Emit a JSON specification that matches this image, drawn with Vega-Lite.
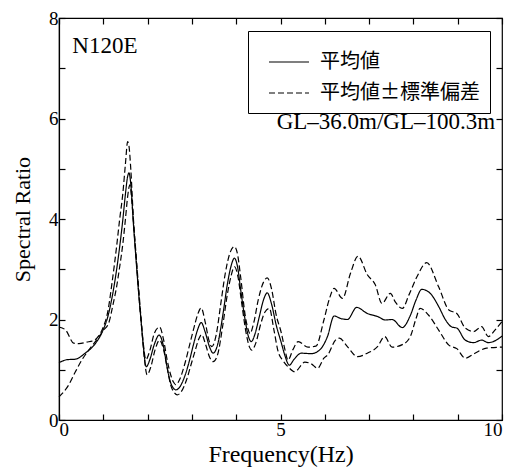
{
  "$schema": "https://vega.github.io/schema/vega-lite/v6.json",
  "autosize": {"type": "none"},
  "padding": {"left": 59, "top": 18, "right": 26, "bottom": 47},
  "width": 443,
  "height": 402,
  "background": "white",
  "config": {
    "view": {"stroke": "black", "strokeWidth": 1.2},
    "axis": {
      "labelFont": "Liberation Serif", "labelFontSize": 19, "labelColor": "black",
      "titleFont": "Liberation Serif", "titleFontSize": 22, "titleFontWeight": "normal", "titleColor": "black",
      "domainColor": "black", "tickColor": "black", "grid": false, "tickSize": -6, "tickWidth": 1.2, "domainWidth": 1.2
    },
    "legend": {
      "strokeColor": "black", "strokeWidth": 1, "padding": 10, "fillColor": "white",
      "labelFont": "Noto Sans CJK JP", "labelFontSize": 20, "labelColor": "black",
      "symbolType": "stroke", "symbolStrokeWidth": 1.2, "symbolSize": 1600, "symbolStrokeColor": "black",
      "rowPadding": -6, "labelOffset": 10, "symbolOffset": 10
    }
  },
  "layer": [
    {
      "data": {"values": [
        {"f":0,"v":1.14,"s":"mean","k":"平均値"},
        {"f":0.18,"v":1.2,"s":"mean","k":"平均値"},
        {"f":0.37,"v":1.21,"s":"mean","k":"平均値"},
        {"f":0.59,"v":1.33,"s":"mean","k":"平均値"},
        {"f":0.82,"v":1.52,"s":"mean","k":"平均値"},
        {"f":1.0,"v":1.8,"s":"mean","k":"平均値"},
        {"f":1.1,"v":2.05,"s":"mean","k":"平均値"},
        {"f":1.2,"v":2.45,"s":"mean","k":"平均値"},
        {"f":1.3,"v":2.99,"s":"mean","k":"平均値"},
        {"f":1.37,"v":3.45,"s":"mean","k":"平均値"},
        {"f":1.44,"v":3.98,"s":"mean","k":"平均値"},
        {"f":1.5,"v":4.5,"s":"mean","k":"平均値"},
        {"f":1.55,"v":4.85,"s":"mean","k":"平均値"},
        {"f":1.58,"v":4.92,"s":"mean","k":"平均値"},
        {"f":1.62,"v":4.7,"s":"mean","k":"平均値"},
        {"f":1.68,"v":3.9,"s":"mean","k":"平均値"},
        {"f":1.73,"v":3.3,"s":"mean","k":"平均値"},
        {"f":1.8,"v":2.5,"s":"mean","k":"平均値"},
        {"f":1.85,"v":2.0,"s":"mean","k":"平均値"},
        {"f":1.9,"v":1.5,"s":"mean","k":"平均値"},
        {"f":1.97,"v":1.06,"s":"mean","k":"平均値"},
        {"f":2.05,"v":1.2,"s":"mean","k":"平均値"},
        {"f":2.15,"v":1.5,"s":"mean","k":"平均値"},
        {"f":2.26,"v":1.69,"s":"mean","k":"平均値"},
        {"f":2.35,"v":1.5,"s":"mean","k":"平均値"},
        {"f":2.43,"v":1.1,"s":"mean","k":"平均値"},
        {"f":2.5,"v":0.8,"s":"mean","k":"平均値"},
        {"f":2.57,"v":0.65,"s":"mean","k":"平均値"},
        {"f":2.64,"v":0.6,"s":"mean","k":"平均値"},
        {"f":2.72,"v":0.65,"s":"mean","k":"平均値"},
        {"f":2.85,"v":0.9,"s":"mean","k":"平均値"},
        {"f":2.95,"v":1.2,"s":"mean","k":"平均値"},
        {"f":3.05,"v":1.55,"s":"mean","k":"平均値"},
        {"f":3.13,"v":1.8,"s":"mean","k":"平均値"},
        {"f":3.21,"v":1.94,"s":"mean","k":"平均値"},
        {"f":3.3,"v":1.75,"s":"mean","k":"平均値"},
        {"f":3.4,"v":1.45,"s":"mean","k":"平均値"},
        {"f":3.48,"v":1.33,"s":"mean","k":"平均値"},
        {"f":3.58,"v":1.5,"s":"mean","k":"平均値"},
        {"f":3.7,"v":2.1,"s":"mean","k":"平均値"},
        {"f":3.8,"v":2.7,"s":"mean","k":"平均値"},
        {"f":3.88,"v":3.05,"s":"mean","k":"平均値"},
        {"f":3.96,"v":3.22,"s":"mean","k":"平均値"},
        {"f":4.03,"v":3.05,"s":"mean","k":"平均値"},
        {"f":4.1,"v":2.6,"s":"mean","k":"平均値"},
        {"f":4.2,"v":2.0,"s":"mean","k":"平均値"},
        {"f":4.28,"v":1.65,"s":"mean","k":"平均値"},
        {"f":4.34,"v":1.56,"s":"mean","k":"平均値"},
        {"f":4.42,"v":1.7,"s":"mean","k":"平均値"},
        {"f":4.52,"v":2.05,"s":"mean","k":"平均値"},
        {"f":4.62,"v":2.4,"s":"mean","k":"平均値"},
        {"f":4.7,"v":2.53,"s":"mean","k":"平均値"},
        {"f":4.8,"v":2.3,"s":"mean","k":"平均値"},
        {"f":4.9,"v":1.9,"s":"mean","k":"平均値"},
        {"f":5.02,"v":1.53,"s":"mean","k":"平均値"},
        {"f":5.1,"v":1.28,"s":"mean","k":"平均値"},
        {"f":5.2,"v":1.09,"s":"mean","k":"平均値"},
        {"f":5.3,"v":1.2,"s":"mean","k":"平均値"},
        {"f":5.47,"v":1.33,"s":"mean","k":"平均値"},
        {"f":5.69,"v":1.32,"s":"mean","k":"平均値"},
        {"f":5.88,"v":1.39,"s":"mean","k":"平均値"},
        {"f":6.06,"v":1.66,"s":"mean","k":"平均値"},
        {"f":6.21,"v":2.07,"s":"mean","k":"平均値"},
        {"f":6.36,"v":2.02,"s":"mean","k":"平均値"},
        {"f":6.51,"v":2.0,"s":"mean","k":"平均値"},
        {"f":6.72,"v":2.24,"s":"mean","k":"平均値"},
        {"f":6.96,"v":2.12,"s":"mean","k":"平均値"},
        {"f":7.19,"v":2.06,"s":"mean","k":"平均値"},
        {"f":7.37,"v":1.99,"s":"mean","k":"平均値"},
        {"f":7.52,"v":2.0,"s":"mean","k":"平均値"},
        {"f":7.75,"v":1.84,"s":"mean","k":"平均値"},
        {"f":7.93,"v":2.08,"s":"mean","k":"平均値"},
        {"f":8.06,"v":2.39,"s":"mean","k":"平均値"},
        {"f":8.19,"v":2.6,"s":"mean","k":"平均値"},
        {"f":8.38,"v":2.52,"s":"mean","k":"平均値"},
        {"f":8.57,"v":2.26,"s":"mean","k":"平均値"},
        {"f":8.72,"v":2.0,"s":"mean","k":"平均値"},
        {"f":8.87,"v":1.85,"s":"mean","k":"平均値"},
        {"f":8.98,"v":1.83,"s":"mean","k":"平均値"},
        {"f":9.17,"v":1.59,"s":"mean","k":"平均値"},
        {"f":9.36,"v":1.54,"s":"mean","k":"平均値"},
        {"f":9.54,"v":1.59,"s":"mean","k":"平均値"},
        {"f":9.69,"v":1.54,"s":"mean","k":"平均値"},
        {"f":9.85,"v":1.58,"s":"mean","k":"平均値"},
        {"f":10,"v":1.67,"s":"mean","k":"平均値"},

        {"f":0,"v":1.85,"s":"upper","k":"平均値±標準偏差"},
        {"f":0.15,"v":1.79,"s":"upper","k":"平均値±標準偏差"},
        {"f":0.33,"v":1.53,"s":"upper","k":"平均値±標準偏差"},
        {"f":0.45,"v":1.52,"s":"upper","k":"平均値±標準偏差"},
        {"f":0.62,"v":1.55,"s":"upper","k":"平均値±標準偏差"},
        {"f":0.78,"v":1.58,"s":"upper","k":"平均値±標準偏差"},
        {"f":0.9,"v":1.68,"s":"upper","k":"平均値±標準偏差"},
        {"f":1.0,"v":1.85,"s":"upper","k":"平均値±標準偏差"},
        {"f":1.1,"v":2.15,"s":"upper","k":"平均値±標準偏差"},
        {"f":1.2,"v":2.75,"s":"upper","k":"平均値±標準偏差"},
        {"f":1.3,"v":3.45,"s":"upper","k":"平均値±標準偏差"},
        {"f":1.37,"v":4.0,"s":"upper","k":"平均値±標準偏差"},
        {"f":1.44,"v":4.5,"s":"upper","k":"平均値±標準偏差"},
        {"f":1.5,"v":5.1,"s":"upper","k":"平均値±標準偏差"},
        {"f":1.55,"v":5.54,"s":"upper","k":"平均値±標準偏差"},
        {"f":1.58,"v":5.45,"s":"upper","k":"平均値±標準偏差"},
        {"f":1.62,"v":5.0,"s":"upper","k":"平均値±標準偏差"},
        {"f":1.68,"v":4.0,"s":"upper","k":"平均値±標準偏差"},
        {"f":1.73,"v":3.4,"s":"upper","k":"平均値±標準偏差"},
        {"f":1.8,"v":2.6,"s":"upper","k":"平均値±標準偏差"},
        {"f":1.85,"v":2.05,"s":"upper","k":"平均値±標準偏差"},
        {"f":1.9,"v":1.55,"s":"upper","k":"平均値±標準偏差"},
        {"f":1.96,"v":1.2,"s":"upper","k":"平均値±標準偏差"},
        {"f":2.05,"v":1.38,"s":"upper","k":"平均値±標準偏差"},
        {"f":2.15,"v":1.72,"s":"upper","k":"平均値±標準偏差"},
        {"f":2.27,"v":1.85,"s":"upper","k":"平均値±標準偏差"},
        {"f":2.36,"v":1.6,"s":"upper","k":"平均値±標準偏差"},
        {"f":2.44,"v":1.2,"s":"upper","k":"平均値±標準偏差"},
        {"f":2.52,"v":0.9,"s":"upper","k":"平均値±標準偏差"},
        {"f":2.58,"v":0.76,"s":"upper","k":"平均値±標準偏差"},
        {"f":2.64,"v":0.7,"s":"upper","k":"平均値±標準偏差"},
        {"f":2.72,"v":0.8,"s":"upper","k":"平均値±標準偏差"},
        {"f":2.85,"v":1.15,"s":"upper","k":"平均値±標準偏差"},
        {"f":2.95,"v":1.5,"s":"upper","k":"平均値±標準偏差"},
        {"f":3.05,"v":1.85,"s":"upper","k":"平均値±標準偏差"},
        {"f":3.13,"v":2.1,"s":"upper","k":"平均値±標準偏差"},
        {"f":3.21,"v":2.23,"s":"upper","k":"平均値±標準偏差"},
        {"f":3.3,"v":1.95,"s":"upper","k":"平均値±標準偏差"},
        {"f":3.38,"v":1.6,"s":"upper","k":"平均値±標準偏差"},
        {"f":3.45,"v":1.46,"s":"upper","k":"平均値±標準偏差"},
        {"f":3.55,"v":1.7,"s":"upper","k":"平均値±標準偏差"},
        {"f":3.65,"v":2.3,"s":"upper","k":"平均値±標準偏差"},
        {"f":3.75,"v":2.9,"s":"upper","k":"平均値±標準偏差"},
        {"f":3.85,"v":3.3,"s":"upper","k":"平均値±標準偏差"},
        {"f":3.96,"v":3.45,"s":"upper","k":"平均値±標準偏差"},
        {"f":4.03,"v":3.3,"s":"upper","k":"平均値±標準偏差"},
        {"f":4.1,"v":2.85,"s":"upper","k":"平均値±標準偏差"},
        {"f":4.2,"v":2.1,"s":"upper","k":"平均値±標準偏差"},
        {"f":4.27,"v":1.8,"s":"upper","k":"平均値±標準偏差"},
        {"f":4.31,"v":1.72,"s":"upper","k":"平均値±標準偏差"},
        {"f":4.4,"v":1.95,"s":"upper","k":"平均値±標準偏差"},
        {"f":4.5,"v":2.4,"s":"upper","k":"平均値±標準偏差"},
        {"f":4.62,"v":2.75,"s":"upper","k":"平均値±標準偏差"},
        {"f":4.7,"v":2.83,"s":"upper","k":"平均値±標準偏差"},
        {"f":4.8,"v":2.6,"s":"upper","k":"平均値±標準偏差"},
        {"f":4.9,"v":2.1,"s":"upper","k":"平均値±標準偏差"},
        {"f":5.02,"v":1.73,"s":"upper","k":"平均値±標準偏差"},
        {"f":5.1,"v":1.4,"s":"upper","k":"平均値±標準偏差"},
        {"f":5.17,"v":1.19,"s":"upper","k":"平均値±標準偏差"},
        {"f":5.28,"v":1.4,"s":"upper","k":"平均値±標準偏差"},
        {"f":5.4,"v":1.56,"s":"upper","k":"平均値±標準偏差"},
        {"f":5.62,"v":1.45,"s":"upper","k":"平均値±標準偏差"},
        {"f":5.8,"v":1.47,"s":"upper","k":"平均値±標準偏差"},
        {"f":5.98,"v":1.99,"s":"upper","k":"平均値±標準偏差"},
        {"f":6.1,"v":2.4,"s":"upper","k":"平均値±標準偏差"},
        {"f":6.21,"v":2.62,"s":"upper","k":"平均値±標準偏差"},
        {"f":6.4,"v":2.42,"s":"upper","k":"平均値±標準偏差"},
        {"f":6.58,"v":2.92,"s":"upper","k":"平均値±標準偏差"},
        {"f":6.75,"v":3.26,"s":"upper","k":"平均値±標準偏差"},
        {"f":6.96,"v":2.89,"s":"upper","k":"平均値±標準偏差"},
        {"f":7.14,"v":2.69,"s":"upper","k":"平均値±標準偏差"},
        {"f":7.29,"v":2.32,"s":"upper","k":"平均値±標準偏差"},
        {"f":7.48,"v":2.52,"s":"upper","k":"平均値±標準偏差"},
        {"f":7.59,"v":2.35,"s":"upper","k":"平均値±標準偏差"},
        {"f":7.75,"v":2.22,"s":"upper","k":"平均値±標準偏差"},
        {"f":7.9,"v":2.49,"s":"upper","k":"平均値±標準偏差"},
        {"f":8.08,"v":2.85,"s":"upper","k":"平均値±標準偏差"},
        {"f":8.3,"v":3.13,"s":"upper","k":"平均値±標準偏差"},
        {"f":8.57,"v":2.65,"s":"upper","k":"平均値±標準偏差"},
        {"f":8.8,"v":2.19,"s":"upper","k":"平均値±標準偏差"},
        {"f":8.98,"v":2.12,"s":"upper","k":"平均値±標準偏差"},
        {"f":9.17,"v":1.83,"s":"upper","k":"平均値±標準偏差"},
        {"f":9.36,"v":1.76,"s":"upper","k":"平均値±標準偏差"},
        {"f":9.54,"v":1.86,"s":"upper","k":"平均値±標準偏差"},
        {"f":9.69,"v":1.66,"s":"upper","k":"平均値±標準偏差"},
        {"f":9.85,"v":1.8,"s":"upper","k":"平均値±標準偏差"},
        {"f":10,"v":1.96,"s":"upper","k":"平均値±標準偏差"},

        {"f":0,"v":0.46,"s":"lower","k":"平均値±標準偏差"},
        {"f":0.22,"v":0.7,"s":"lower","k":"平均値±標準偏差"},
        {"f":0.37,"v":0.96,"s":"lower","k":"平均値±標準偏差"},
        {"f":0.52,"v":1.2,"s":"lower","k":"平均値±標準偏差"},
        {"f":0.67,"v":1.39,"s":"lower","k":"平均値±標準偏差"},
        {"f":0.82,"v":1.56,"s":"lower","k":"平均値±標準偏差"},
        {"f":1.0,"v":1.78,"s":"lower","k":"平均値±標準偏差"},
        {"f":1.13,"v":1.95,"s":"lower","k":"平均値±標準偏差"},
        {"f":1.22,"v":2.3,"s":"lower","k":"平均値±標準偏差"},
        {"f":1.3,"v":2.65,"s":"lower","k":"平均値±標準偏差"},
        {"f":1.37,"v":3.05,"s":"lower","k":"平均値±標準偏差"},
        {"f":1.44,"v":3.5,"s":"lower","k":"平均値±標準偏差"},
        {"f":1.5,"v":4.0,"s":"lower","k":"平均値±標準偏差"},
        {"f":1.55,"v":4.45,"s":"lower","k":"平均値±標準偏差"},
        {"f":1.6,"v":4.68,"s":"lower","k":"平均値±標準偏差"},
        {"f":1.64,"v":4.4,"s":"lower","k":"平均値±標準偏差"},
        {"f":1.7,"v":3.7,"s":"lower","k":"平均値±標準偏差"},
        {"f":1.76,"v":3.0,"s":"lower","k":"平均値±標準偏差"},
        {"f":1.82,"v":2.3,"s":"lower","k":"平均値±標準偏差"},
        {"f":1.88,"v":1.7,"s":"lower","k":"平均値±標準偏差"},
        {"f":1.93,"v":1.2,"s":"lower","k":"平均値±標準偏差"},
        {"f":1.99,"v":0.9,"s":"lower","k":"平均値±標準偏差"},
        {"f":2.07,"v":1.05,"s":"lower","k":"平均値±標準偏差"},
        {"f":2.17,"v":1.4,"s":"lower","k":"平均値±標準偏差"},
        {"f":2.27,"v":1.59,"s":"lower","k":"平均値±標準偏差"},
        {"f":2.36,"v":1.4,"s":"lower","k":"平均値±標準偏差"},
        {"f":2.45,"v":1.0,"s":"lower","k":"平均値±標準偏差"},
        {"f":2.52,"v":0.7,"s":"lower","k":"平均値±標準偏差"},
        {"f":2.6,"v":0.55,"s":"lower","k":"平均値±標準偏差"},
        {"f":2.67,"v":0.5,"s":"lower","k":"平均値±標準偏差"},
        {"f":2.75,"v":0.55,"s":"lower","k":"平均値±標準偏差"},
        {"f":2.88,"v":0.8,"s":"lower","k":"平均値±標準偏差"},
        {"f":2.98,"v":1.1,"s":"lower","k":"平均値±標準偏差"},
        {"f":3.08,"v":1.4,"s":"lower","k":"平均値±標準偏差"},
        {"f":3.15,"v":1.6,"s":"lower","k":"平均値±標準偏差"},
        {"f":3.22,"v":1.7,"s":"lower","k":"平均値±標準偏差"},
        {"f":3.31,"v":1.5,"s":"lower","k":"平均値±標準偏差"},
        {"f":3.4,"v":1.25,"s":"lower","k":"平均値±標準偏差"},
        {"f":3.48,"v":1.16,"s":"lower","k":"平均値±標準偏差"},
        {"f":3.58,"v":1.3,"s":"lower","k":"平均値±標準偏差"},
        {"f":3.7,"v":1.9,"s":"lower","k":"平均値±標準偏差"},
        {"f":3.8,"v":2.5,"s":"lower","k":"平均値±標準偏差"},
        {"f":3.88,"v":2.85,"s":"lower","k":"平均値±標準偏差"},
        {"f":3.96,"v":3.05,"s":"lower","k":"平均値±標準偏差"},
        {"f":4.04,"v":2.85,"s":"lower","k":"平均値±標準偏差"},
        {"f":4.12,"v":2.35,"s":"lower","k":"平均値±標準偏差"},
        {"f":4.22,"v":1.75,"s":"lower","k":"平均値±標準偏差"},
        {"f":4.3,"v":1.45,"s":"lower","k":"平均値±標準偏差"},
        {"f":4.35,"v":1.39,"s":"lower","k":"平均値±標準偏差"},
        {"f":4.45,"v":1.55,"s":"lower","k":"平均値±標準偏差"},
        {"f":4.55,"v":1.9,"s":"lower","k":"平均値±標準偏差"},
        {"f":4.65,"v":2.15,"s":"lower","k":"平均値±標準偏差"},
        {"f":4.75,"v":2.22,"s":"lower","k":"平均値±標準偏差"},
        {"f":4.85,"v":1.8,"s":"lower","k":"平均値±標準偏差"},
        {"f":4.95,"v":1.35,"s":"lower","k":"平均値±標準偏差"},
        {"f":5.05,"v":1.19,"s":"lower","k":"平均値±標準偏差"},
        {"f":5.18,"v":1.05,"s":"lower","k":"平均値±標準偏差"},
        {"f":5.32,"v":0.96,"s":"lower","k":"平均値±標準偏差"},
        {"f":5.55,"v":1.15,"s":"lower","k":"平均値±標準偏差"},
        {"f":5.69,"v":1.12,"s":"lower","k":"平均値±標準偏差"},
        {"f":5.84,"v":1.03,"s":"lower","k":"平均値±標準偏差"},
        {"f":5.98,"v":1.23,"s":"lower","k":"平均値±標準偏差"},
        {"f":6.07,"v":1.3,"s":"lower","k":"平均値±標準偏差"},
        {"f":6.24,"v":1.59,"s":"lower","k":"平均値±標準偏差"},
        {"f":6.33,"v":1.63,"s":"lower","k":"平均値±標準偏差"},
        {"f":6.51,"v":1.46,"s":"lower","k":"平均値±標準偏差"},
        {"f":6.74,"v":1.26,"s":"lower","k":"平均値±標準偏差"},
        {"f":6.96,"v":1.33,"s":"lower","k":"平均値±標準偏差"},
        {"f":7.19,"v":1.46,"s":"lower","k":"平均値±標準偏差"},
        {"f":7.35,"v":1.66,"s":"lower","k":"平均値±標準偏差"},
        {"f":7.52,"v":1.45,"s":"lower","k":"平均値±標準偏差"},
        {"f":7.75,"v":1.5,"s":"lower","k":"平均値±標準偏差"},
        {"f":7.93,"v":1.66,"s":"lower","k":"平均値±標準偏差"},
        {"f":8.06,"v":2.02,"s":"lower","k":"平均値±標準偏差"},
        {"f":8.15,"v":2.22,"s":"lower","k":"平均値±標準偏差"},
        {"f":8.34,"v":2.09,"s":"lower","k":"平均値±標準偏差"},
        {"f":8.57,"v":1.79,"s":"lower","k":"平均値±標準偏差"},
        {"f":8.8,"v":1.49,"s":"lower","k":"平均値±標準偏差"},
        {"f":8.98,"v":1.42,"s":"lower","k":"平均値±標準偏差"},
        {"f":9.17,"v":1.23,"s":"lower","k":"平均値±標準偏差"},
        {"f":9.39,"v":1.33,"s":"lower","k":"平均値±標準偏差"},
        {"f":9.65,"v":1.43,"s":"lower","k":"平均値±標準偏差"},
        {"f":10,"v":1.45,"s":"lower","k":"平均値±標準偏差"}
      ]},
      "mark": {"type": "line", "interpolate": "monotone", "color": "black", "strokeWidth": 1.2},
      "encoding": {
        "x": {"field": "f", "type": "quantitative",
              "scale": {"domain": [0, 10], "nice": false, "zero": false},
              "axis": {"orient": "bottom", "values": [0,1,2,3,4,5,6,7,8,9,10],
                       "labelExpr": "datum.value % 5 == 0 ? datum.label : ''",
                       "title": "Frequency(Hz)", "titleFontSize": 24, "labelPadding": 6, "titlePadding": 3}},
        "y": {"field": "v", "type": "quantitative",
              "scale": {"domain": [0, 8], "nice": false},
              "axis": {"orient": "left", "values": [0,1,2,3,4,5,6,7,8],
                       "labelExpr": "datum.value % 2 == 0 ? datum.label : ''",
                       "title": "Spectral Ratio", "labelPadding": 7, "titlePadding": 14}},
        "strokeDash": {"field": "k", "type": "nominal",
                       "scale": {"domain": ["平均値", "平均値±標準偏差"], "range": [[1, 0], [6, 3]]},
                       "legend": {"title": null, "orient": "none", "legendX": 189, "legendY": 13,
                                  "labelExpr": "datum.label + '\u2002\u2009'"}},
        "detail": {"field": "s", "type": "nominal"}
      }
    },
    {
      "data": {"values": [{"f": 0.3, "v": 7.44, "t": "N120E"}]},
      "mark": {"type": "text", "align": "left", "baseline": "middle", "font": "Liberation Serif", "fontSize": 23, "color": "black"},
      "encoding": {
        "x": {"field": "f", "type": "quantitative", "scale": {"domain": [0, 10], "nice": false, "zero": false},
              "axis": {"orient": "top", "values": [0,1,2,3,4,5,6,7,8,9,10], "labels": false, "title": null, "domain": false}},
        "y": {"field": "v", "type": "quantitative", "scale": {"domain": [0, 8], "nice": false},
              "axis": {"orient": "right", "values": [0,1,2,3,4,5,6,7,8], "labels": false, "title": null, "domain": false}},
        "text": {"field": "t"}
      }
    },
    {
      "data": {"values": [{"f": 7.38, "v": 5.94, "t": "GL–36.0m/GL–100.3m"}]},
      "mark": {"type": "text", "align": "center", "baseline": "middle", "font": "Liberation Serif", "fontSize": 23, "color": "black"},
      "encoding": {
        "x": {"field": "f", "type": "quantitative", "scale": {"domain": [0, 10], "nice": false, "zero": false}, "axis": null},
        "y": {"field": "v", "type": "quantitative", "scale": {"domain": [0, 8], "nice": false}, "axis": null},
        "text": {"field": "t"}
      }
    }
  ],
  "resolve": {"axis": {"x": "independent", "y": "independent"}}
}
